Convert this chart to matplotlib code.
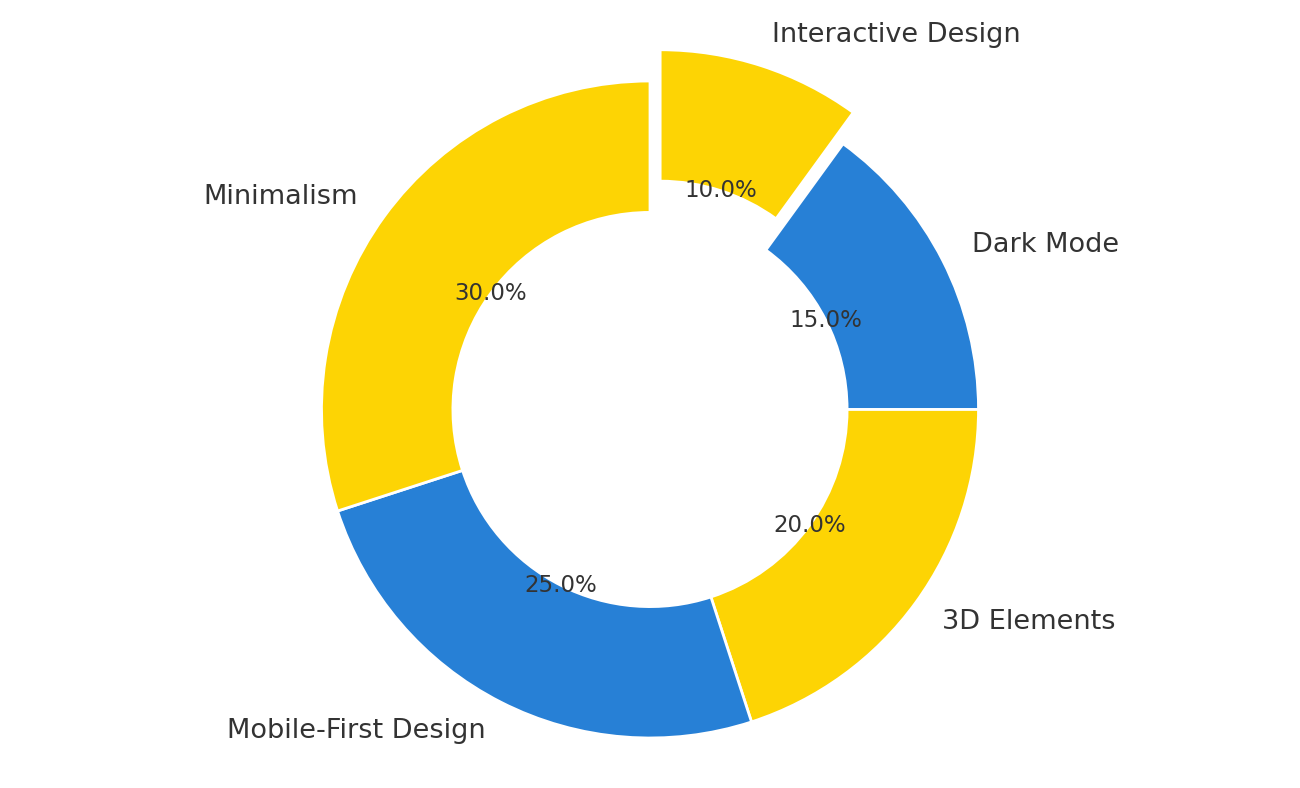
import matplotlib
matplotlib.use("Agg")
from matplotlib import pyplot as plt

labels = ["Interactive Design", "Dark Mode", "3D Elements", "Mobile-First Design", "Minimalism"]
shares = [10, 15, 20, 25, 30]
colors = ["#FDD404", "#2780D6", "#FDD404", "#2780D6", "#FDD404"]
explode = [0.1, 0, 0, 0, 0]

fig = plt.figure(figsize=(13, 7.88), dpi=100)
ax = fig.add_axes([0, 0, 1, 1])

wedges, texts, autotexts = ax.pie(
    shares,
    labels=labels,
    colors=colors,
    explode=explode,
    startangle=90,
    counterclock=False,
    autopct="%1.1f%%",
    pctdistance=0.6,
    labeldistance=1.1,
    wedgeprops=dict(width=0.4, edgecolor="white", linewidth=2),
    textprops=dict(color="#333333"),
)
for t in texts:
    t.set_fontsize(19.5)
for t in autotexts:
    t.set_fontsize(16.5)

# pie radius ~328 px, centre at (650, 409) from top-left
r_px = 328.5
ax.set_aspect("equal")
ax.set_xlim(-650 / r_px, 650 / r_px)
ax.set_ylim(-378.5 / r_px, 409.5 / r_px)
ax.axis("off")

fig.savefig("out.png", dpi=100)
